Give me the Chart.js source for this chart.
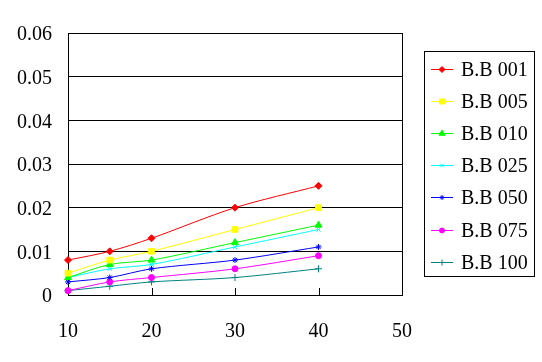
<!DOCTYPE html>
<html>
<head>
<meta charset="utf-8">
<script src="https://cdn.jsdelivr.net/npm/chart.js@4"></script>
<style>
  html, body { margin: 0; padding: 0; background: #fff; }
  #wrap { width: 542px; height: 362px; }
</style>
</head>
<body>
<div id="wrap"><canvas id="chart" width="542" height="362"></canvas></div>
<script>
// --- Data ---
const xValues = [10, 15, 20, 30, 40];
const seriesLabels = ['B.B 001', 'B.B 005', 'B.B 010', 'B.B 025', 'B.B 050', 'B.B 075', 'B.B 100'];
const bb001 = [0.008, 0.010, 0.013, 0.020, 0.025];
const bb005 = [0.005, 0.008, 0.010, 0.015, 0.020];
const bb010 = [0.004, 0.007, 0.008, 0.012, 0.016];
const bb025 = [0.004, 0.006, 0.007, 0.011, 0.015];
const bb050 = [0.003, 0.004, 0.006, 0.008, 0.011];
const bb075 = [0.001, 0.003, 0.004, 0.006, 0.009];
const bb100 = [0.001, 0.002, 0.003, 0.004, 0.006];
const xTicks = [10, 20, 30, 40, 50];
const yTicks = [0, 0.01, 0.02, 0.03, 0.04, 0.05, 0.06];

const seriesValues = [bb001, bb005, bb010, bb025, bb050, bb075, bb100];
const colors = ['#FF0000', '#FFFF00', '#00FF00', '#00FFFF', '#0000FF', '#FF00FF', '#008080'];
const markers = ['rectRot', 'rect', 'triangle', 'crossRot', 'star', 'circle', 'cross'];
const radii = [3.5, 4, 4, 3, 3, 3, 3.5];

const FONT = "'Liberation Serif', 'Times New Roman', serif";

const datasets = seriesLabels.map((label, i) => ({
    label: label,
    data: xValues.map((x, j) => ({ x: x, y: seriesValues[i][j] })),
    borderColor: colors[i],
    backgroundColor: colors[i],
    borderWidth: 1,
    pointStyle: markers[i],
    pointRadius: radii[i],
    pointBorderWidth: 1,
    pointHoverRadius: radii[i],
    tension: 0.3,
    fill: false,
    clip: false
}));

// --- Plot frame, inner x ticks and custom boxed legend ---
const framePlugin = {
    id: 'frame',
    beforeDatasetsDraw(chart) {
        const ctx = chart.ctx;
        const a = chart.chartArea;
        const xs = chart.scales.x;
        ctx.save();
        ctx.strokeStyle = '#000';
        ctx.lineWidth = 1;
        ctx.strokeRect(Math.round(a.left) + 0.5, Math.round(a.top) + 0.5,
            Math.round(a.right - a.left), Math.round(a.bottom - a.top));
        xTicks.forEach(v => {
            const px = Math.round(xs.getPixelForValue(v)) + 0.5;
            ctx.beginPath();
            ctx.moveTo(px, a.bottom);
            ctx.lineTo(px, a.bottom - 7);
            ctx.stroke();
        });
        ctx.restore();
    },
    afterDraw(chart) {
        const ctx = chart.ctx;
        ctx.save();
        ctx.lineWidth = 1;
        ctx.strokeStyle = '#000';
        // legend box
        const bx = 424.5, by = 51.5, bw = 110, bh = 225;
        ctx.strokeRect(bx, by, bw, bh);
        ctx.font = '20px ' + FONT;
        ctx.textBaseline = 'middle';
        ctx.textAlign = 'left';
        chart.data.datasets.forEach((ds, i) => {
            const y = Math.round(69 + i * 32.1) + 0.5;
            ctx.strokeStyle = ds.borderColor;
            ctx.beginPath();
            ctx.moveTo(431, y);
            ctx.lineTo(453, y);
            ctx.stroke();
            const opts = {
                pointStyle: ds.pointStyle,
                radius: ds.pointRadius - 0.5,
                borderWidth: 1,
                rotation: 0
            };
            ctx.fillStyle = ds.backgroundColor;
            ctx.strokeStyle = ds.borderColor;
            if (Chart.helpers && Chart.helpers.drawPoint) {
                Chart.helpers.drawPoint(ctx, opts, 442, y);
            }
            ctx.fillStyle = '#000';
            ctx.fillText(ds.label, 461, y + 1);
        });
        ctx.restore();
    }
};

const ctx = document.getElementById('chart').getContext('2d');
new Chart(ctx, {
    type: 'line',
    data: { datasets: datasets },
    options: {
        responsive: false,
        animation: false,
        events: [],
        layout: { padding: { top: 33, right: 140, left: 0, bottom: 0 } },
        plugins: {
            legend: { display: false },
            tooltip: { enabled: false }
        },
        scales: {
            x: {
                type: 'linear',
                min: 10,
                max: 50,
                afterBuildTicks: (scale) => { scale.ticks = xTicks.map(v => ({ value: v })); },
                afterFit: (scale) => { scale.height = 67; },
                grid: { display: false },
                border: { display: false },
                ticks: {
                    color: '#000',
                    font: { family: FONT, size: 20 },
                    padding: 17,
                    maxRotation: 0,
                    autoSkip: false
                }
            },
            y: {
                type: 'linear',
                min: 0,
                max: 0.06,
                afterBuildTicks: (scale) => { scale.ticks = yTicks.map(v => ({ value: v })); },
                afterFit: (scale) => { scale.width = 68; },
                grid: { color: '#000', lineWidth: 1, drawTicks: false },
                border: { display: false },
                ticks: {
                    color: '#000',
                    font: { family: FONT, size: 20 },
                    padding: 16,
                    labelOffset: 2,
                    callback: (v) => v === 0 ? '0' : v.toFixed(2)
                }
            }
        }
    },
    plugins: [framePlugin]
});
</script>
</body>
</html>
